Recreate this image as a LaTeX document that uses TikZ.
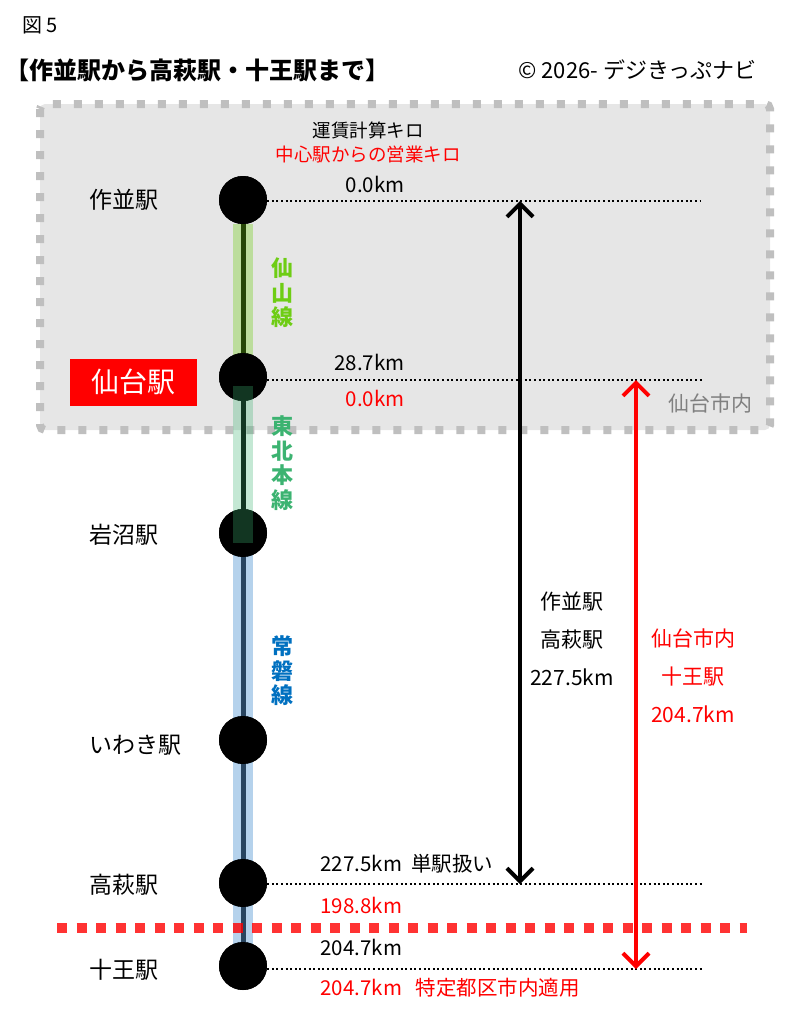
\documentclass[tikz,border=0pt]{standalone}
\usepackage{fontspec}
\setmainfont{Noto Sans CJK JP}
\usetikzlibrary{arrows.meta, positioning}

\definecolor{boxgray}{RGB}{230,230,230}
\definecolor{dashgray}{RGB}{191,191,191}
\definecolor{txtgray}{RGB}{128,128,128}
\definecolor{senzan}{RGB}{110,205,20}
\definecolor{tohoku}{RGB}{60,179,113}
\definecolor{joban}{RGB}{0,112,192}
\definecolor{jobanband}{RGB}{91,155,213}

\begin{document}
\begin{tikzpicture}[x=1pt, y=-1pt,
      sta/.style={circle, fill=black, minimum size=48pt, inner sep=0pt},
      lbl/.style={anchor=west, font=\fontsize{23}{26}\selectfont},
      km/.style={font=\fontsize{20.5}{24}\selectfont},
      mid/.style={align=center, font=\fontsize{21}{38}\selectfont},
      rosen/.style={align=center, font=\fontsize{22}{24.5}\selectfont\bfseries},
      dots/.style={line width=2pt, dash pattern=on 2pt off 2.6pt},
      dim/.style={line width=4pt, arrows={Straight Barb[length=13pt, width=26pt]-Straight Barb[length=13pt, width=26pt]}}]

      \useasboundingbox (0,0) rectangle (800,1026);

      % city area
      \draw[line width=8pt, draw=dashgray, fill=boxgray, dash pattern=on 8pt off 13pt, rounded corners=5pt] (40,104) rectangle (770,430);

      \node[anchor=west, font=\fontsize{20}{22}\selectfont] (fig) at (19,25) {図 5};
      \node[anchor=west, font=\fontsize{24}{26}\selectfont\bfseries] (title) at (2,70) {【作並駅から高萩駅・十王駅まで】};
      \node[anchor=west, font=\fontsize{22}{24}\selectfont] (copy) at (515,70) {© 2026- デジきっぷナビ};

      \node[font=\fontsize{18.5}{20}\selectfont] (head1) at (368,130) {運賃計算キロ};
      \node[font=\fontsize{18.5}{20}\selectfont, text=red] (head2) [below=0pt of head1] {中心駅からの営業キロ};

      % stations
      \node[sta] (sakunami) at (243,200) {};
      \node[sta] (sendai) at (243,377) {};
      \node[sta] (iwanuma) at (243,533) {};
      \node[sta] (iwaki) at (243,740) {};
      \node[sta] (takahagi) at (243,883) {};
      \node[sta] (juo) at (243,966) {};

      % tracks
      \draw[line width=5pt] (sakunami) -- (juo);
      \fill[senzan, opacity=0.35] (233,224) rectangle (253,358);
      \fill[jobanband, opacity=0.45] (233,540) rectangle (253,960);
      \node[sta] at (sakunami) {};
      \node[sta] at (sendai) {};
      \node[sta] at (iwanuma) {};
      \node[sta] at (iwaki) {};
      \node[sta] at (takahagi) {};
      \node[sta] at (juo) {};
      \fill[tohoku, opacity=0.3] (233,386) rectangle (253,543);

      \node[rosen, text=senzan] (senzanL) at (282,293) {仙\\山\\線};
      \node[rosen, text=tohoku] (tohokuL) at (282,463) {東\\北\\本\\線};
      \node[rosen, text=joban] (jobanL) at (282,671) {常\\磐\\線};

      % station names
      \node[lbl] (sakunamiN) at (86,200) {作並駅};
      \node[fill=red, text=white, minimum width=127pt, minimum height=47pt, font=\fontsize{28}{30}\selectfont] (sendaiN) at (133.5,382) {仙台駅};
      \node[lbl] (iwanumaN) at (86,535) {岩沼駅};
      \node[lbl] (iwakiN) at (86,745) {いわき駅};
      \node[lbl] (takahagiN) at (86,885) {高萩駅};
      \node[lbl] (juoN) at (86,970) {十王駅};

      % kilo lines
      \coordinate (sakunamiE) at (700,201);
      \coordinate (sendaiE) at (703,380);
      \coordinate (takahagiE) at (703,884);
      \coordinate (juoE) at (703,969);
      \draw[dots] (sakunami.east |- sakunamiE) -- (sakunamiE);
      \draw[dots] (sendai.east |- sendaiE) -- (sendaiE);
      \draw[dots] (takahagi.east |- takahagiE) -- (takahagiE);
      \draw[dots] (juo.east |- juoE) -- (juoE);

      \node[km, anchor=east] (k1) at (408,184) {0.0km};
      \node[km, anchor=east] (k2) at (408,362) {28.7km};
      \node[km, anchor=east, text=red] (k3) at (408,398) {0.0km};
      \node[km, anchor=west] (k4) at (317,864) {227.5km\ \ 単駅扱い};
      \node[km, anchor=west, text=red] (k5) at (317,905) {198.8km};
      \node[km, anchor=west] (k6) at (317,947) {204.7km};
      \node[km, anchor=west, text=red] (k7) at (317,988) {204.7km\ \ \ 特定都区市内適用};

      \node[anchor=east, font=\fontsize{21}{24}\selectfont, text=txtgray] (cityL) at (756,403) {仙台市内};

      % distances
      \coordinate (bTop) at (520,201);
      \coordinate (bBot) at (520,884);
      \coordinate (rTop) at (636,380);
      \coordinate (rBot) at (636,969);
      \draw[dim] (bTop) -- (bBot);
      \draw[dim, red] (rTop) -- (rBot);

      \node[mid] (blkT) at (572,639) {作並駅\\高萩駅\\227.5km};
      \node[mid, text=red] (redT) at (693,676) {仙台市内\\十王駅\\204.7km};

      % city border
      \draw[red, opacity=0.8, line width=10pt, dash pattern=on 10pt off 9.5pt] (57,928) -- (747,928);
\end{tikzpicture}
\end{document}
